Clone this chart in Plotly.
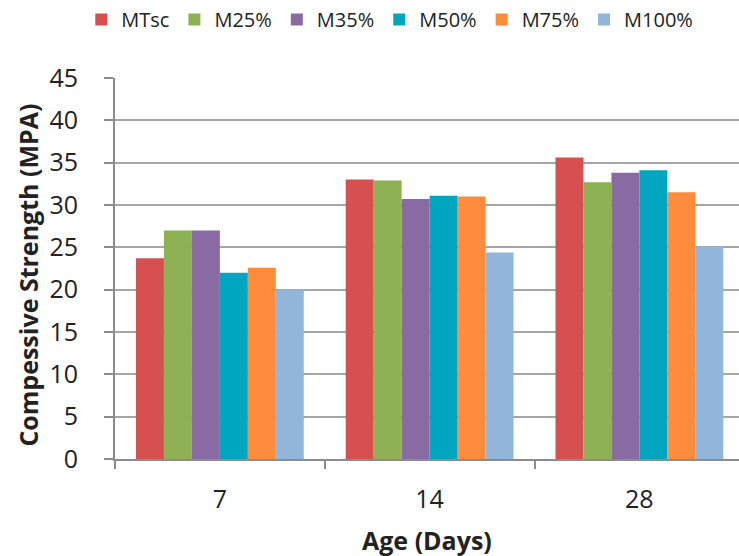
import plotly.graph_objects as go

ages = ["7", "14", "28"]
series_names = ["MTsc", "M25%", "M35%", "M50%", "M75%", "M100%"]
mtsc = [23.7, 33.0, 35.6]
m25 = [27.0, 32.9, 32.7]
m35 = [27.0, 30.7, 33.8]
m50 = [22.0, 31.1, 34.1]
m75 = [22.6, 31.0, 31.5]
m100 = [20.0, 24.4, 25.1]
colors = ["#D5504E", "#8DB153", "#8A6AA2", "#00A6C0", "#FF8C3C", "#92B6DA"]

series_values = [mtsc, m25, m35, m50, m75, m100]

fig = go.Figure()
for name, vals, col in zip(series_names, series_values, colors):
    fig.add_trace(go.Bar(name=name, x=ages, y=vals, marker=dict(color=col, line_width=0)))

axis_col = "#8C8C8C"
font_family = "Open Sans, Lato, sans-serif"
fig.update_layout(
    width=739, height=556,
    margin=dict(l=115, r=0, t=78, b=97, autoexpand=False),
    paper_bgcolor="white", plot_bgcolor="white",
    font=dict(family=font_family, color="#222222"),
    barmode="group", bargap=0.2, bargroupgap=0,
    showlegend=True,
    legend=dict(orientation="h", x=0.11, xref="container", xanchor="left",
                y=1.0, yref="container", yanchor="top",
                font=dict(size=20), itemwidth=30,
                tracegroupgap=0, traceorder="normal"),
    xaxis=dict(
        type="category", range=[-0.5, 2.475],
        showline=True, linecolor=axis_col, linewidth=2,
        ticks="outside", tickson="boundaries", ticklen=8, tickwidth=2, tickcolor=axis_col,
        tickfont=dict(size=25), ticklabelstandoff=17,
        showgrid=False,
    ),
    yaxis=dict(
        range=[0, 45], dtick=5, tick0=0,
        showline=True, linecolor=axis_col, linewidth=2,
        ticks="outside", ticklen=9, tickwidth=2, tickcolor=axis_col,
        tickfont=dict(size=25), ticklabelstandoff=21,
        showgrid=True, gridcolor="#A6A6A6", gridwidth=2,
        zeroline=False,
    ),
    annotations=[
        dict(text="<b>Age (Days)</b>", xref="paper", yref="paper", x=0.5, y=-0.2126,
             xanchor="center", yanchor="middle", showarrow=False, font=dict(size=25)),
        dict(text="<b>Compessive Strength (MPA)</b>", xref="paper", yref="paper",
             x=-0.14, y=0.483, xanchor="center", yanchor="middle", textangle=-90,
             showarrow=False, font=dict(size=25)),
    ],
)

fig.write_html("out.html")
